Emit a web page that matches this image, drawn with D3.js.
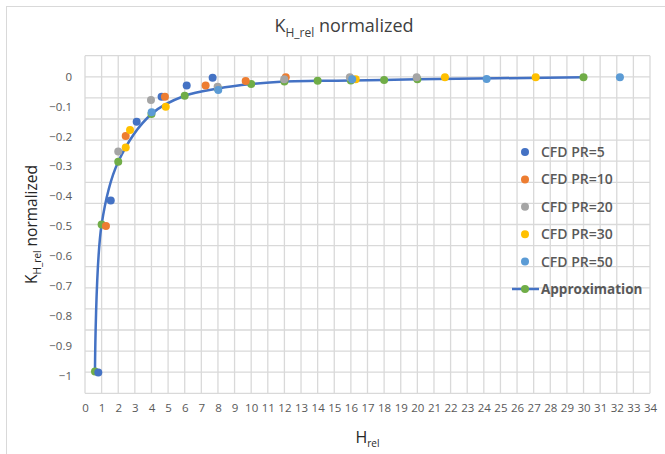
<!DOCTYPE html>
<html>
<head>
<meta charset="utf-8">
<script src="https://cdn.jsdelivr.net/npm/d3@7"></script>
<style>
  body { margin: 0; background: #fff; }
  text { font-family: "Open Sans", "Liberation Sans", sans-serif; }
</style>
</head>
<body>
<svg id="chart"></svg>
<script>
// values: [H_rel, K_H_rel normalized]
const pr5 = [[0.8, -0.99], [1.55, -0.415], [3.11, -0.151], [4.61, -0.067], [6.12, -0.03], [7.68, -0.004]];
const pr10 = [[1.26, -0.5], [2.45, -0.199], [4.81, -0.067], [7.26, -0.03], [9.67, -0.015], [12.08, -0.002]];
const pr20 = [[2.0, -0.251], [3.97, -0.078], [7.98, -0.034], [11.99, -0.009], [15.94, -0.002], [19.96, -0.002]];
const pr30 = [[2.45, -0.237], [2.71, -0.179], [4.86, -0.101], [16.29, -0.009], [21.66, -0.002], [27.12, -0.002]];
const pr50 = [[4.01, -0.119], [8.02, -0.045], [16.08, -0.009], [24.17, -0.008], [32.19, -0.002]];
const approx = [
  [0.6, -0.987], [1, -0.495], [2, -0.285], [4, -0.125], [6, -0.064], [8, -0.04],
  [10, -0.025], [12, -0.016], [14, -0.014], [16, -0.013], [18, -0.011], [20, -0.009], [30, -0.002]
];

const seriesNames = ["CFD PR=5", "CFD PR=10", "CFD PR=20", "CFD PR=30", "CFD PR=50", "Approximation"];
const xTicks = d3.range(0, 35, 1);
const yTicks = [0, -0.1, -0.2, -0.3, -0.4, -0.5, -0.6, -0.7, -0.8, -0.9, -1];

const fullWidth = 665;
const fullHeight = 454;
const margin = {top: 55.7, right: 15, bottom: 60.7, left: 85};
const width = fullWidth - margin.left - margin.right;
const height = fullHeight - margin.top - margin.bottom;

const colors = ["#4472C4", "#ED7D31", "#A5A5A5", "#FFC000", "#5B9BD5"];
const green = "#70AD47";
const lineBlue = "#4472C4";

const svg = d3.select('#chart')
  .attr('width', fullWidth)
  .attr('height', fullHeight);

svg.append('rect')
  .attr('x', 6.5).attr('y', 6.5)
  .attr('width', 720).attr('height', 520)
  .attr('fill', '#fff')
  .attr('stroke', '#d9d9d9');

const x = d3.scaleLinear().domain([0, 34]).range([0, width]);
const y = d3.scaleLinear().domain([-1.06, 0.07]).range([height, 0]);

const g = svg.append('g')
  .attr('transform', 'translate(' + margin.left + ',' + margin.top + ')');

// grid (horizontal lines split the plot in 16 equal bands like the original)
const gridY = d3.range(17).map(i => y.invert(i * height / 16));
g.append('g').selectAll('line.h')
  .data(gridY)
  .enter().append('line')
    .attr('x1', 0).attr('x2', width)
    .attr('y1', d => y(d)).attr('y2', d => y(d))
    .attr('stroke', '#d9d9d9').attr('stroke-width', 1.3);

g.append('g').selectAll('line.v')
  .data(xTicks)
  .enter().append('line')
    .attr('x1', d => x(d)).attr('x2', d => x(d))
    .attr('y1', 0).attr('y2', height)
    .attr('stroke', '#d9d9d9').attr('stroke-width', 1.3);

// axes, labels only
const xAxis = g.append('g')
  .attr('transform', 'translate(0,' + height + ')')
  .call(d3.axisBottom(x).tickValues(xTicks).tickFormat(d3.format('d')).tickSize(0).tickPadding(11));
xAxis.select('.domain').remove();
xAxis.selectAll('text')
  .attr('fill', '#595959')
  .style('font-size', '11.5px');

const yAxis = g.append('g')
  .call(d3.axisLeft(y).tickValues(yTicks).tickFormat(d => d === 0 ? '0' : d3.format('.1~f')(d)).tickSize(0).tickPadding(13));
yAxis.select('.domain').remove();
yAxis.selectAll('text')
  .attr('fill', '#595959')
  .style('font-size', '11.5px');

// approximation line + markers
const line = d3.line()
  .x(d => x(d[0]))
  .y(d => y(d[1]))
  .curve(d3.curveCatmullRom.alpha(0.5));

g.append('path')
  .datum(approx)
  .attr('fill', 'none')
  .attr('stroke', lineBlue)
  .attr('stroke-width', 2.5)
  .attr('d', line);

g.selectAll('.approx')
  .data(approx)
  .enter().append('circle')
    .attr('class', 'approx')
    .attr('cx', d => x(d[0]))
    .attr('cy', d => y(d[1]))
    .attr('r', 4)
    .attr('fill', green);

// CFD points
[pr5, pr10, pr20, pr30, pr50].forEach((s, i) => {
  g.selectAll('.cfd' + i)
    .data(s)
    .enter().append('circle')
      .attr('class', 'cfd' + i)
      .attr('cx', d => x(d[0]))
      .attr('cy', d => y(d[1]))
      .attr('r', 4)
      .attr('fill', colors[i]);
});

// titles
const title = svg.append('text')
  .attr('x', 344).attr('y', 32)
  .attr('text-anchor', 'middle')
  .attr('fill', '#404040')
  .style('font-size', '18px');
title.append('tspan').text('K');
title.append('tspan').attr('dy', 5).style('font-size', '12px').text('H_rel');
title.append('tspan').attr('dy', -5).text(' normalized');

const yTitle = svg.append('text')
  .attr('transform', 'translate(37,' + (margin.top + height / 2) + ') rotate(-90)')
  .attr('text-anchor', 'middle')
  .attr('fill', '#262626')
  .style('font-size', '15.5px');
yTitle.append('tspan').text('K');
yTitle.append('tspan').attr('dy', 4).style('font-size', '10px').text('H_rel');
yTitle.append('tspan').attr('dy', -4).text(' normalized');

const xTitle = svg.append('text')
  .attr('x', margin.left + width / 2).attr('y', 443)
  .attr('text-anchor', 'middle')
  .attr('fill', '#262626')
  .style('font-size', '16px');
xTitle.append('tspan').text('H');
xTitle.append('tspan').attr('dy', 4).style('font-size', '10px').text('rel');

// legend
const legend = svg.append('g').attr('transform', 'translate(525,152)');
const rowH = 27.4;

seriesNames.forEach((name, i) => {
  const row = legend.append('g').attr('transform', 'translate(0,' + (i * rowH) + ')');
  if (i < 5) {
    row.append('circle').attr('r', 4).attr('fill', colors[i]);
  } else {
    row.append('line')
      .attr('x1', -13).attr('x2', 14)
      .attr('stroke', lineBlue).attr('stroke-width', 2.5);
    row.append('circle').attr('r', 4).attr('fill', green);
  }
  row.append('text')
    .attr('x', 16).attr('dy', '0.35em')
    .attr('fill', '#595959')
    .style('font-size', i < 5 ? '14px' : '13.5px')
    .style('font-weight', i < 5 ? 600 : 700)
    .text(name);
});
</script>
</body>
</html>
